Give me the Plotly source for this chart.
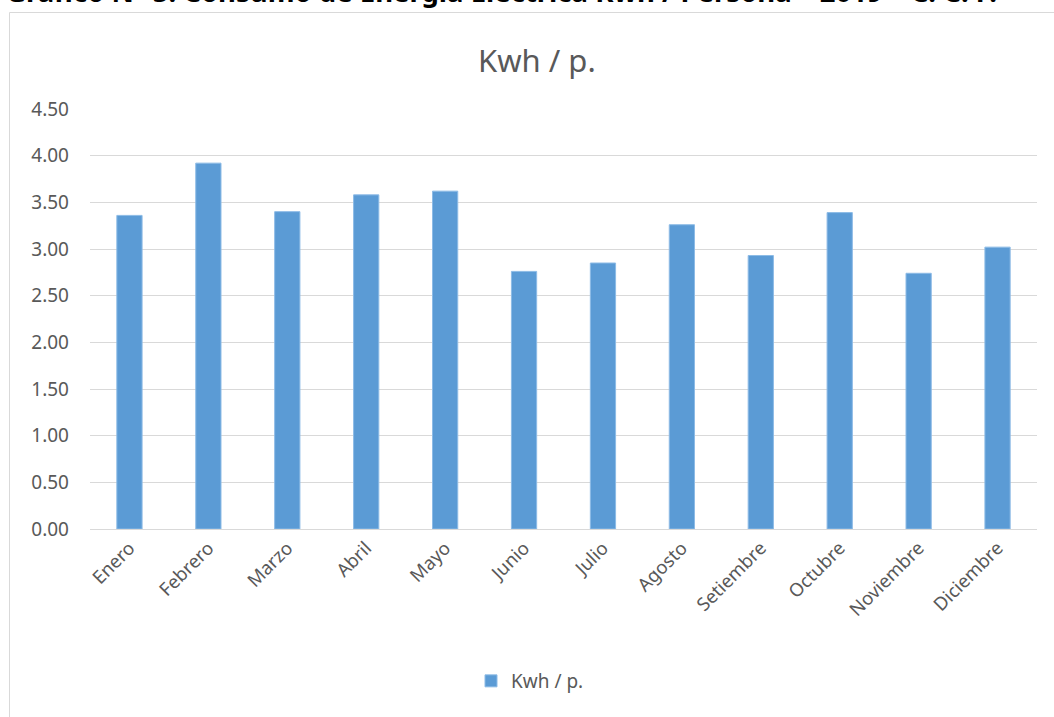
import plotly.graph_objects as go

months = ["Enero", "Febrero", "Marzo", "Abril", "Mayo", "Junio", "Julio",
          "Agosto", "Setiembre", "Octubre", "Noviembre", "Diciembre"]
kwh_per_person = [3.36, 3.92, 3.40, 3.58, 3.62, 2.76, 2.85, 3.26, 2.93, 3.39, 2.74, 3.02]
y_ticks = [0, 0.5, 1.0, 1.5, 2.0, 2.5, 3.0, 3.5, 4.0, 4.5]
y_tick_labels = ["0.00", "0.50", "1.00", "1.50", "2.00", "2.50", "3.00", "3.50", "4.00", "4.50"]

W, H = 1054, 717
L, R, T, B = 90, 17, 109, 188
pw, ph = W - L - R, H - T - B

def px(x):
    return (x - L) / pw

def py(y):
    return 1 - (y - T) / ph

FONT = "Noto Sans"
GRAY = "#595959"

fig = go.Figure()
fig.add_trace(go.Bar(
    x=months, y=kwh_per_person, name="Kwh / p.",
    marker=dict(color="#5B9BD5", line=dict(color="#8DBBE6", width=1)),
))

fig.update_layout(
    width=W, height=H,
    margin=dict(l=L, r=R, t=T, b=B),
    paper_bgcolor="white", plot_bgcolor="white",
    bargap=0.68,
    font=dict(family=FONT, color=GRAY, size=18),
    showlegend=True,
    legend=dict(orientation="h", x=px(530), xanchor="center", y=py(681), yanchor="middle",
                font=dict(family=FONT, size=19, color=GRAY), itemwidth=30),
    xaxis=dict(tickangle=-45, showline=True, linecolor="#D9D9D9", linewidth=1,
               tickfont=dict(family=FONT, size=18.5, color=GRAY), showgrid=False),
    yaxis=dict(range=[0, 4.5], tickvals=y_ticks, ticktext=y_tick_labels,
               showgrid=True, gridcolor="#D9D9D9", gridwidth=1, zeroline=False,
               tickfont=dict(family=FONT, size=19, color=GRAY), ticklabelstandoff=20),
    shapes=[dict(type="rect", xref="paper", yref="paper",
                 x0=px(9.5), x1=px(1100), y0=py(760), y1=py(12.5),
                 line=dict(color="#D9D9D9", width=1), layer="below")],
    annotations=[
        dict(text="Kwh / p.", xref="paper", yref="paper", x=px(537), y=py(60),
             xanchor="center", yanchor="middle", showarrow=False,
             font=dict(family=FONT, size=31, color=GRAY)),
        dict(text="<b>Gráfico N° 5: Consumo de Energía Eléctrica Kwh / Persona – 2019 – C. C. P.</b>",
             xref="paper", yref="paper", x=px(4), y=py(12), xanchor="left", yanchor="bottom",
             showarrow=False, font=dict(family=FONT, size=27.5, color="black")),
    ],
)

fig.write_html("out.html", config={"displayModeBar": False},
               post_script="document.body.style.margin='0';document.body.style.overflow='hidden';")
